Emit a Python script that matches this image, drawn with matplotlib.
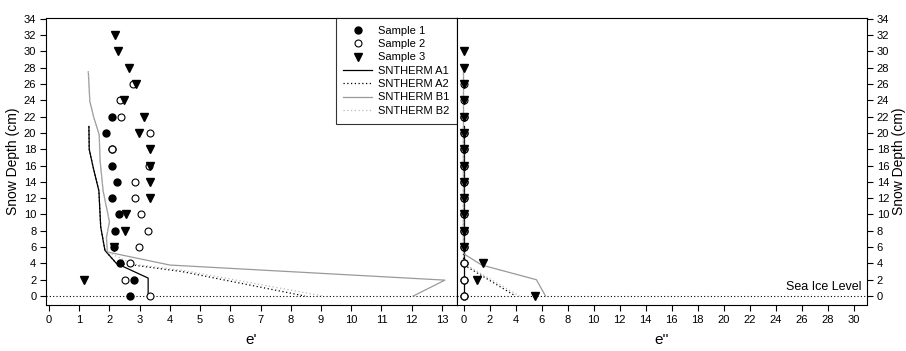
import numpy as np
import matplotlib
matplotlib.use("Agg")
import matplotlib.pyplot as plt

plt.rcParams['font.family'] = ['Liberation Sans', 'DejaVu Sans']

# ---- Data ----
depth_s1 = [0, 2, 4, 6, 8, 10, 12, 14, 16, 18, 20, 22]
e1_s1 = [2.67, 2.82, 2.34, 2.14, 2.18, 2.31, 2.10, 2.26, 2.07, 2.08, 1.90, 2.09]
e2_s1 = [0, 0, 0, 0, 0, 0, 0, 0, 0, 0, 0, 0]

depth_s2 = [0, 2, 4, 6, 8, 10, 12, 14, 16, 18, 20, 22, 24, 26]
e1_s2 = [3.33, 2.51, 2.67, 2.97, 3.28, 3.06, 2.83, 2.86, 3.30, 2.10, 3.33, 2.37, 2.34, 2.79]
e2_s2 = [0, 0, 0, 0, 0, 0, 0, 0, 0, 0, 0, 0, 0, 0]

depth_s3 = [0, 2, 4, 6, 8, 10, 12, 14, 16, 18, 20, 22, 24, 26, 28, 30, 32]
e1_s3 = [np.nan, 1.17, np.nan, 2.15, 2.50, 2.56, 3.33, 3.33, 3.33, 3.33, 2.97, 3.15, 2.47, 2.87, 2.65, 2.27, 2.19]
e2_s3 = [5.5, 1.03, 1.53, 0, 0, 0, 0, 0, 0, 0, 0, 0, 0, 0, 0, 0, np.nan]

# SNTHERM model profiles
depth_A1 = [20.8, 18, 15.8, 12.9, 8.5, 5.6, 4.0, 2.2, 0]
e1_A1 = [1.32, 1.33, 1.46, 1.65, 1.71, 1.85, 2.23, 3.28, 3.28]
e2_A1 = [0, 0, 0, 0, 0, 0, 0, 0, 0]

depth_A2 = [20.8, 18, 15.8, 12.9, 8.5, 5.6, 4.0, 3.8, 3.0, 0]
e1_A2 = [1.32, 1.33, 1.46, 1.65, 1.71, 1.85, 2.23, 2.78, 4.40, 8.47]
depth_A2r = [20.8, 4.0, 3.8, 0]
e2_A2 = [0, 0, 0.05, 4.0]

depth_B1 = [27.5, 23.9, 21.9, 19.8, 16.6, 12.9, 9.1, 7.2, 5.4, 3.8, 1.95, 0]
e1_B1 = [1.30, 1.35, 1.48, 1.66, 1.69, 1.79, 2.00, 1.90, 1.93, 4.00, 13.10, 12.05]
depth_B1r = [27.5, 5.2, 3.8, 2.0, 0]
e2_B1 = [0, 0, 1.4, 5.6, 6.3]

depth_B2 = [27.5, 23.9, 21.9, 19.8, 16.6, 12.9, 9.1, 7.2, 5.4, 3.9, 3.1, 0]
e1_B2 = [1.30, 1.35, 1.48, 1.66, 1.69, 1.79, 2.00, 1.90, 1.93, 2.80, 4.50, 9.07]
depth_B2r = [27.5, 5.0, 3.9, 0]
e2_B2 = [0, 0, 0.1, 4.3]

sea_ice_level = 0

# ---- Figure ----
W, H = 906, 351
fig = plt.figure(figsize=(W / 100, H / 100), dpi=100)
axL = fig.add_axes([46 / W, 1 - 305 / H, 411 / W, 287 / H])
axR = fig.add_axes([457 / W, 1 - 305 / H, 410 / W, 287 / H])

gray = '#9a9a9a'
lgray = '#b8b8b8'
ms_c = 5
ms_t = 6

def draw(ax, xA1, yA1, xA2, yA2, xB1, yB1, xB2, yB2, x1, x2, x3):
    ax.plot(xA1, yA1, color='black', lw=0.9, zorder=2)
    ax.plot(xA2, yA2, color='black', lw=0.9, ls=(0, (1, 2)), zorder=2)
    ax.plot(xB1, yB1, color=gray, lw=0.9, zorder=2)
    ax.plot(xB2, yB2, color=lgray, lw=0.9, ls=(0, (1, 2)), zorder=2)
    ax.axhline(sea_ice_level, color='black', lw=0.8, ls=(0, (1, 2)), zorder=1)
    ax.plot(x1, depth_s1, 'o', color='black', ms=ms_c, ls='none', zorder=3)
    ax.plot(x2, depth_s2, 'o', mfc='white', mec='black', mew=0.8, ms=ms_c, ls='none', zorder=4)
    ax.plot(x3, depth_s3, 'v', color='black', ms=ms_t, ls='none', zorder=5)

draw(axL, e1_A1, depth_A1, e1_A2, depth_A2, e1_B1, depth_B1, e1_B2, depth_B2,
     e1_s1, e1_s2, e1_s3)
draw(axR, e2_A1, depth_A1, e2_A2, depth_A2r, e2_B1, depth_B1r, e2_B2, depth_B2r,
     e2_s1, e2_s2, e2_s3)

for ax in (axL, axR):
    ax.set_ylim(-1.1, 34.1)
    ax.set_yticks(np.arange(0, 35, 2))
    ax.tick_params(labelsize=8, length=4, width=0.8, direction='out', pad=3)
    for s in ax.spines.values():
        s.set_linewidth(0.8)

axL.set_xlim(-0.1, 13.5)
axL.set_xticks(np.arange(0, 14, 1))
axL.set_ylabel('Snow Depth (cm)', fontsize=10, labelpad=3)
axL.set_xlabel("e'", fontsize=11, labelpad=6)

axR.set_xlim(-0.5, 31)
axR.set_xticks(np.arange(0, 31, 2))
axR.yaxis.tick_right()
axR.yaxis.set_label_position('right')
axR.set_ylabel('Snow Depth (cm)', fontsize=10, labelpad=2, rotation=90)
axR.set_xlabel("e''", fontsize=11, labelpad=6)
axR.text(30.6, 0.35, 'Sea Ice Level', ha='right', va='bottom', fontsize=9)

# Legend
from matplotlib.lines import Line2D
handles = [
    Line2D([], [], marker='o', color='black', ls='none', ms=ms_c),
    Line2D([], [], marker='o', mfc='white', mec='black', mew=0.8, ls='none', ms=ms_c),
    Line2D([], [], marker='v', color='black', ls='none', ms=ms_t),
    Line2D([], [], color='black', lw=0.9),
    Line2D([], [], color='black', lw=0.9, ls=(0, (1, 2))),
    Line2D([], [], color=gray, lw=0.9),
    Line2D([], [], color=lgray, lw=0.9, ls=(0, (1, 2))),
]
labels = ['Sample 1', 'Sample 2', 'Sample 3', 'SNTHERM A1', 'SNTHERM A2',
          'SNTHERM B1', 'SNTHERM B2']
leg = axL.legend(handles, labels, loc='upper right', bbox_to_anchor=(1.0, 1.0),
                 fontsize=8, frameon=True, fancybox=False, edgecolor='black',
                 handlelength=2.6, handletextpad=0.5, labelspacing=0.3,
                 borderpad=0.7, borderaxespad=0.0)
leg.get_frame().set_linewidth(0.8)

fig.savefig('out.png', dpi=100)
